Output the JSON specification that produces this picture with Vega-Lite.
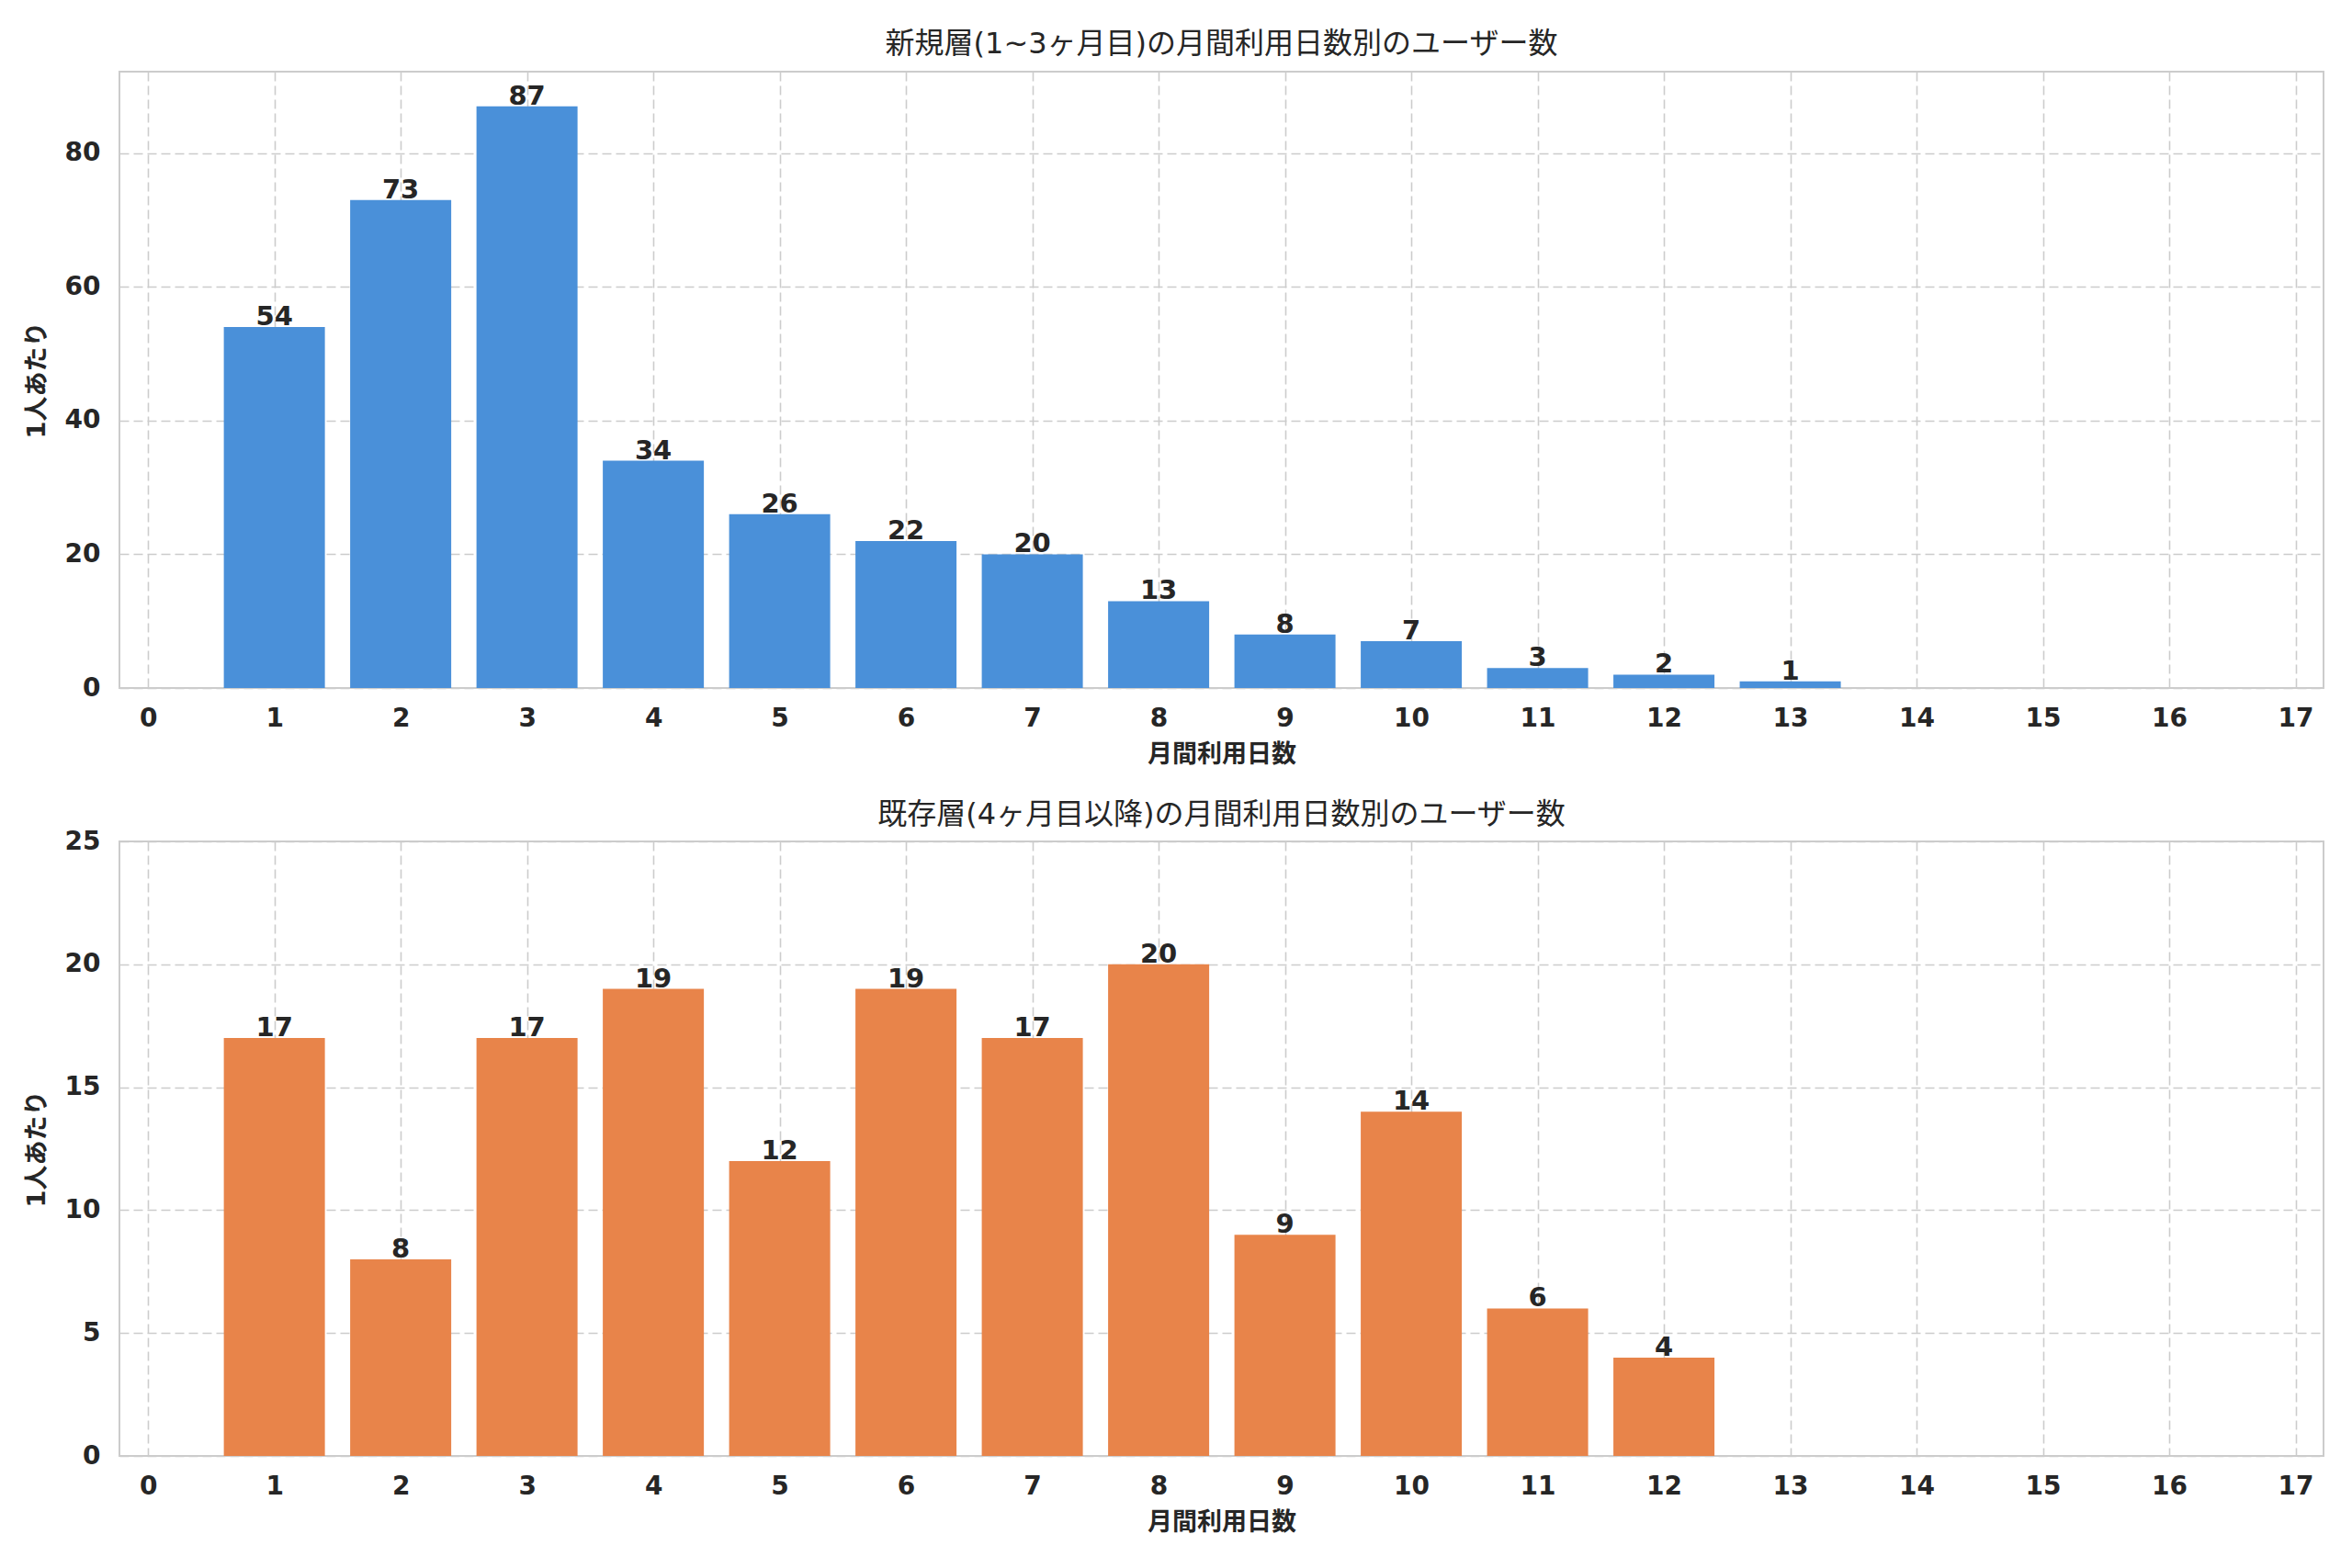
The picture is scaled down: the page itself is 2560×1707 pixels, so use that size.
{
  "$schema": "https://vega.github.io/schema/vega-lite/v6.json",
  "background": "white",
  "padding": {"left": 25, "top": 31, "right": 26, "bottom": 5},
  "spacing": 35,
  "config": {
    "font": "DejaVu Sans, Noto Sans CJK JP",
    "view": {"stroke": "#cccccc", "strokeWidth": 2},
    "axis": {
      "domain": false,
      "ticks": false,
      "grid": true,
      "gridColor": "#cccccc",
      "gridDash": [10, 5],
      "gridWidth": 1.6,
      "labelFont": "DejaVu Sans",
      "labelFontSize": 28,
      "labelFontWeight": "bold",
      "labelColor": "#262626",
      "titleFont": "DejaVu Sans, Noto Sans CJK JP",
      "titleFontSize": 27,
      "titleFontWeight": "bold",
      "titleColor": "#262626"
    },
    "axisX": {"labelPadding": 19, "titlePadding": 12},
    "axisY": {"labelPadding": 21, "titlePadding": 16},
    "title": {"fontSize": 32, "fontWeight": "normal", "color": "#262626", "offset": 13, "font": "DejaVu Sans, Noto Sans CJK JP"}
  },
  "datasets": {
    "early": [
      {"n": 1, "count": 54}, {"n": 2, "count": 73}, {"n": 3, "count": 87},
      {"n": 4, "count": 34}, {"n": 5, "count": 26}, {"n": 6, "count": 22},
      {"n": 7, "count": 20}, {"n": 8, "count": 13}, {"n": 9, "count": 8},
      {"n": 10, "count": 7}, {"n": 11, "count": 3}, {"n": 12, "count": 2},
      {"n": 13, "count": 1}
    ],
    "later": [
      {"n": 1, "count": 17}, {"n": 2, "count": 8}, {"n": 3, "count": 17},
      {"n": 4, "count": 19}, {"n": 5, "count": 12}, {"n": 6, "count": 19},
      {"n": 7, "count": 17}, {"n": 8, "count": 20}, {"n": 9, "count": 9},
      {"n": 10, "count": 14}, {"n": 11, "count": 6}, {"n": 12, "count": 4}
    ]
  },
  "vconcat": [
    {
      "title": "新規層(1~3ヶ月目)の月間利用日数別のユーザー数",
      "width": 2399,
      "height": 671,
      "data": {"name": "early"},
      "encoding": {
        "x": {
          "field": "n", "type": "quantitative", "title": "月間利用日数",
          "scale": {"domain": [-0.19, 17.185], "nice": false, "zero": false},
          "axis": {"values": [0,1,2,3,4,5,6,7,8,9,10,11,12,13,14,15,16,17]}
        },
        "y": {
          "field": "count", "type": "quantitative", "title": "1人あたり",
          "scale": {"domain": [0, 92.2], "nice": false},
          "axis": {"values": [0, 20, 40, 60, 80]}
        }
      },
      "layer": [
        {"mark": {"type": "bar", "color": "#4A90D9", "width": 110}},
        {
          "mark": {"type": "text", "baseline": "alphabetic", "dy": -2, "fontSize": 29, "fontWeight": "bold", "color": "#262626", "font": "DejaVu Sans"},
          "encoding": {"text": {"field": "count", "type": "quantitative"}}
        },
        {
          "data": {"values": [{"label": "ユニークユーザー数: 350"}]},
          "mark": {"type": "text", "align": "left", "baseline": "middle", "fontSize": 22, "fontWeight": "bold", "color": "#262626"},
          "encoding": {
            "x": {"datum": 11.95, "type": "quantitative"},
            "y": {"datum": 84, "type": "quantitative"},
            "text": {"field": "label"}
          }
        }
      ]
    },
    {
      "title": {"text": "既存層(4ヶ月目以降)の月間利用日数別のユーザー数", "offset": -2},
      "width": 2399,
      "height": 669,
      "data": {"name": "later"},
      "encoding": {
        "x": {
          "field": "n", "type": "quantitative", "title": "月間利用日数",
          "scale": {"domain": [-0.19, 17.185], "nice": false, "zero": false},
          "axis": {"values": [0,1,2,3,4,5,6,7,8,9,10,11,12,13,14,15,16,17]}
        },
        "y": {
          "field": "count", "type": "quantitative", "title": "1人あたり",
          "scale": {"domain": [0, 25], "nice": false},
          "axis": {"values": [0, 5, 10, 15, 20, 25]}
        }
      },
      "layer": [
        {"mark": {"type": "bar", "color": "#E8844A", "width": 110}},
        {
          "mark": {"type": "text", "baseline": "alphabetic", "dy": -2, "fontSize": 29, "fontWeight": "bold", "color": "#262626", "font": "DejaVu Sans"},
          "encoding": {"text": {"field": "count", "type": "quantitative"}}
        },
        {
          "data": {"values": [{"label": "ユニークユーザー数: 162"}]},
          "mark": {"type": "text", "align": "left", "baseline": "middle", "fontSize": 22, "fontWeight": "bold", "color": "#262626"},
          "encoding": {
            "x": {"datum": 11.95, "type": "quantitative"},
            "y": {"datum": 22.8, "type": "quantitative"},
            "text": {"field": "label"}
          }
        }
      ]
    }
  ]
}
